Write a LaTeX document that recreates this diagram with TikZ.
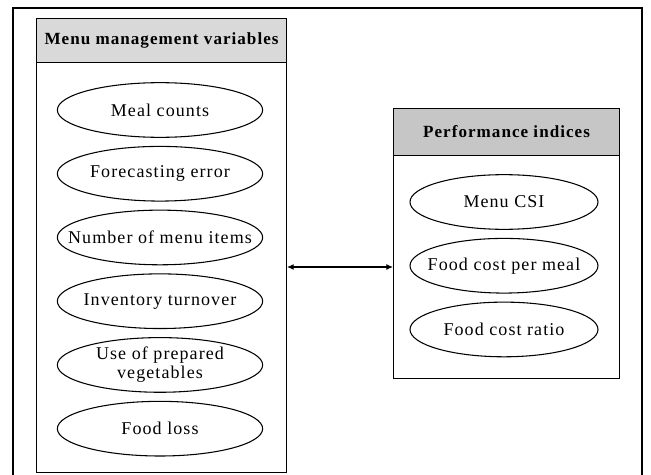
\documentclass[tikz,border=0pt]{standalone}
\usepackage{fontspec}
\setmainfont{Liberation Serif}[LetterSpace=6]
\usetikzlibrary{positioning,arrows.meta,shapes.geometric}

\tikzset{
  var/.style={draw, ellipse, line width=0.8pt, minimum width=154pt, minimum height=41pt,
    inner xsep=-18pt, inner ysep=-2pt, align=center, font=\fontsize{13.5}{14.5}\selectfont},
  idx/.style={var, minimum width=141pt},
  group/.style={draw, line width=0.8pt, anchor=north west, inner sep=0pt},
  head/.style={group, fill=gray!30, font=\fontsize{12.8}{14}\selectfont\bfseries},
}

\begin{document}
\begin{tikzpicture}[x=0.75pt,y=-0.75pt,node distance=6pt]
  \useasboundingbox (0,0) rectangle (651,475);
  \draw[line width=0.8pt] (13,475) -- (13,8) -- (642,8) -- (642,475);

  % menu management variables
  \node[group, minimum width=187.5pt, minimum height=340.5pt] (mv) at (36,18) {};
  \node[head, minimum width=187.5pt, minimum height=33pt] (mvh) at (36,18) {Menu management variables};
  \node[var] (meal) at (160,110) {Meal counts};
  \node[var, below=of meal] (fcst) {Forecasting error};
  \node[var, below=of fcst] (items) {Number of menu items};
  \node[var, below=of items] (inv) {Inventory turnover};
  \node[var, below=of inv] (veg) {Use of prepared\\vegetables};
  \node[var, below=of veg] (loss) {Food loss};

  % performance indices
  \node[group, minimum width=169.5pt, minimum height=202.5pt] (pi) at (393,108) {};
  \node[head, fill=gray!45, minimum width=169.5pt, minimum height=35.25pt] (pih) at (393,108) {Performance indices};
  \node[idx] (csi) at (504,202) {Menu CSI};
  \node[idx, below=of csi] (cpm) {Food cost per meal};
  \node[idx, below=of cpm] (ratio) {Food cost ratio};

  \draw[line width=0.8pt, {Latex[length=5pt,width=4.5pt]}-{Latex[length=5pt,width=4.5pt]}]
    (mv.east |- 0,267) -- (pi.west |- 0,267);
\end{tikzpicture}
\end{document}
